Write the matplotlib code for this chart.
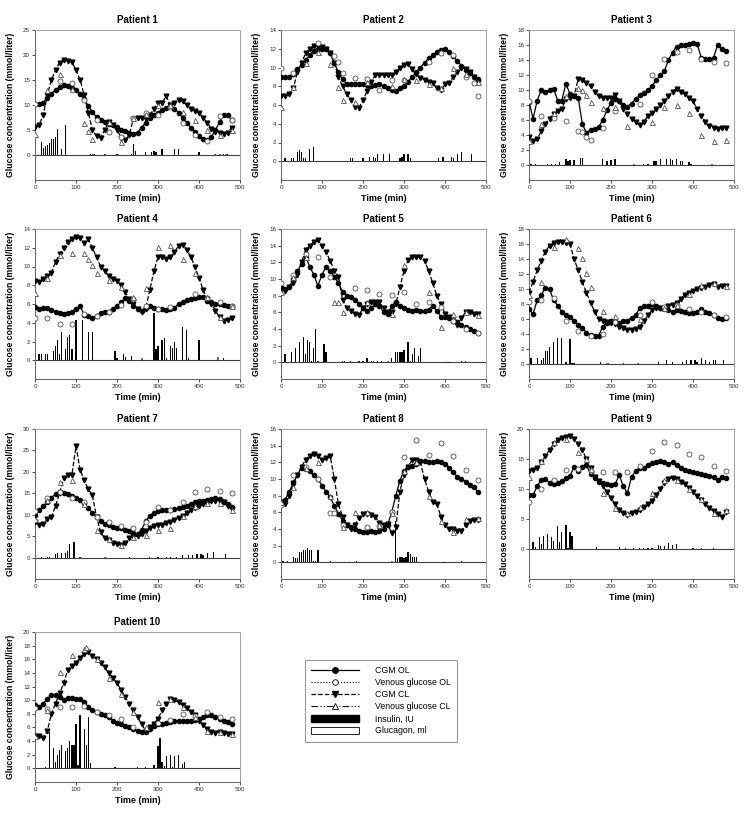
import numpy as np
import matplotlib
matplotlib.use('Agg')
import matplotlib.pyplot as plt
from matplotlib.lines import Line2D
from matplotlib.patches import Patch

plt.rcParams['font.family'] = ['Liberation Sans', 'DejaVu Sans']

# y axis: top value and tick step for each patient
Y_TOP = [25, 14, 18, 14, 16, 18, 30, 16, 20, 20]
Y_STEP = [5, 2, 2, 2, 2, 2, 5, 2, 5, 2]

# CGM readings, one value every 10 min from 0 to 480 min
CGM_OL = [
    [10.3, 10.3, 10.5, 11.5, 12.3, 13.0, 13.6, 14.0, 13.9, 13.5,
     13.0, 12.3, 11.2, 9.8, 8.6, 7.6, 7.0, 6.6, 6.3, 6.0,
     5.6, 5.1, 4.8, 4.5, 4.3, 4.5, 5.5, 6.5, 7.4, 8.0,
     8.5, 9.0, 9.5, 9.8, 9.3, 8.5, 7.5, 6.5, 5.5, 4.6,
     3.9, 3.3, 3.0, 3.6, 5.0, 6.6, 8.0, 8.0, 7.0],
    [9.0, 9.0, 9.0, 9.3, 9.8, 10.3, 10.8, 11.3, 11.8, 12.0,
     12.0, 12.0, 11.5, 10.5, 9.5, 8.8, 8.2, 8.2, 8.2, 8.2,
     8.2, 8.1, 8.0, 8.1, 8.2, 8.0, 7.8, 7.6, 7.5, 7.8,
     8.0, 8.5, 9.0, 9.5, 10.0, 10.5, 11.0, 11.3, 11.7, 11.9,
     12.0, 11.7, 11.2, 10.7, 10.2, 9.7, 9.4, 9.0, 8.8],
    [8.4, 6.2, 8.6, 10.0, 9.8, 10.0, 10.2, 8.6, 8.6, 10.8,
     9.5, 9.2, 9.0, 5.5, 4.3, 4.7, 4.8, 5.1, 6.0, 7.3,
     8.3, 8.8, 8.6, 8.0, 7.8, 8.2, 8.8, 9.3, 9.6, 10.0,
     10.5, 11.3, 12.0, 12.5, 14.0, 15.0, 15.8, 16.0, 16.0, 16.1,
     16.3, 16.2, 14.3, 14.1, 14.1, 14.3, 16.0, 15.5, 15.2],
    [5.7, 5.5, 5.6, 5.6, 5.4, 5.2, 5.0, 4.9, 5.0, 5.2,
     5.5, 5.8, 4.8, 4.7, 4.5, 4.7, 5.0, 5.1, 5.2, 5.5,
     5.8, 6.2, 6.6, 6.3, 5.8, 5.5, 5.3, 5.6, 5.8, 5.6,
     5.5, 5.5, 5.4, 5.5, 5.6, 6.0, 6.2, 6.4, 6.5, 6.6,
     6.8, 6.7, 6.3, 6.2, 6.0, 6.0, 5.9, 5.8, 5.8],
    [9.0, 8.8, 9.0, 10.0, 11.0, 11.8, 12.7, 11.5, 10.5, 9.2,
     10.5, 11.5, 11.0, 10.3, 9.5, 8.5, 8.0, 7.8, 7.5, 7.0,
     6.5, 6.2, 6.5, 7.0, 6.8, 6.0, 5.8, 6.8, 7.2, 6.8,
     6.5, 6.3, 6.2, 6.3, 6.2, 6.2, 6.3, 6.8, 6.2, 5.5,
     5.4, 5.3, 5.0, 4.8, 4.5, 4.2, 4.0, 3.8, 3.5],
    [7.3, 6.7, 8.5, 9.2, 10.2, 10.0, 8.5, 7.8, 7.0, 6.5,
     6.3, 5.8, 5.2, 4.8, 4.2, 3.9, 3.8, 3.8, 5.0, 5.5,
     5.7, 5.8, 5.5, 5.8, 5.8, 6.2, 6.5, 7.5, 7.8, 7.8,
     8.0, 7.8, 7.5, 7.3, 7.2, 7.0, 7.2, 7.1, 6.9, 6.8,
     6.8, 7.0, 7.3, 7.0, 6.8, 6.5, 6.2, 6.0, 6.2],
    [10.0, 11.0, 12.0, 13.0, 14.0, 14.8, 15.3, 15.0, 14.8, 14.3,
     14.0, 13.5, 12.8, 11.5, 10.5, 9.5, 8.5, 7.8, 7.5, 7.2,
     7.0, 6.8, 6.5, 6.2, 5.8, 5.5, 6.5, 8.5, 9.8, 10.5,
     10.8, 11.0, 11.0, 11.2, 11.3, 11.5, 11.8, 12.0, 12.5, 13.0,
     13.3, 13.2, 13.5, 13.7, 13.8, 13.7, 13.0, 12.5, 11.8],
    [7.0, 7.5, 8.5, 9.5, 10.5, 11.3, 11.2, 11.0, 10.5, 10.0,
     9.2, 8.5, 7.8, 6.8, 5.8, 5.0, 4.5, 4.2, 4.0, 3.8,
     3.7, 3.6, 3.8, 3.7, 3.8, 4.0, 4.5, 6.0, 8.0, 9.8,
     11.0, 11.5, 11.6, 11.8, 12.2, 12.2, 12.0, 12.0, 12.2, 12.0,
     11.8, 11.3, 10.8, 10.3, 10.0, 9.7, 9.3, 9.0, 8.5],
    [9.0, 9.0, 10.5, 11.5, 11.7, 11.0, 10.8, 11.0, 11.3, 11.8,
     12.2, 13.7, 13.0, 13.7, 14.0, 12.5, 11.8, 11.2, 11.0, 10.8,
     10.7, 10.8, 12.3, 10.5, 9.3, 12.0, 13.0, 13.5, 13.5, 14.0,
     14.3, 14.5, 14.7, 14.5, 14.2, 14.5, 14.0, 13.5, 13.2, 13.0,
     12.8, 12.7, 12.5, 12.3, 12.2, 12.0, 11.5, 12.0, 11.8],
    [9.3, 9.0, 9.5, 10.2, 10.8, 10.8, 10.5, 10.0, 10.3, 10.3,
     10.2, 10.2, 9.8, 9.0, 8.5, 8.3, 8.0, 7.8, 7.5, 7.0,
     6.7, 6.5, 6.2, 6.0, 5.8, 5.5, 5.3, 5.3, 5.8, 6.2,
     6.5, 6.5, 6.7, 6.8, 6.9, 6.9, 6.9, 7.0, 7.0, 7.1,
     7.3, 7.6, 7.9, 7.8, 7.6, 7.3, 7.0, 6.8, 6.5],
]

CGM_CL = [
    [5.6, 6.0, 8.0, 12.0, 15.0, 17.0, 18.5, 19.1, 18.8, 18.6,
     17.0, 15.0, 12.0, 8.5, 5.0, 3.8, 3.5, 5.0, 6.7, 6.0,
     5.0, 3.5, 3.0, 4.0, 7.3, 7.5, 7.5, 7.3, 8.0, 9.2,
     10.5, 10.5, 11.8, 10.0, 10.5, 11.0, 10.8, 10.0, 9.2, 8.8,
     8.5, 7.5, 6.5, 5.2, 4.6, 4.5, 4.2, 4.5, 5.5],
    [7.0, 7.0, 7.2, 7.8, 9.5, 10.5, 11.5, 12.0, 12.3, 12.3,
     12.2, 12.0, 11.5, 10.5, 9.0, 8.0, 7.2, 6.5, 5.8, 5.7,
     6.5, 7.5, 8.5, 9.2, 9.2, 9.2, 9.2, 9.2, 9.5, 10.0,
     10.3, 10.4, 9.8, 9.3, 8.9, 8.7, 8.5, 8.3, 7.8, 7.6,
     8.2, 8.3, 9.0, 9.5, 10.0, 9.8, 9.5, 9.0, 8.5],
    [3.7, 3.2, 3.5, 4.5, 5.5, 6.2, 6.8, 7.2, 7.5, 8.8,
     9.0, 9.2, 11.5, 11.4, 11.0, 10.5, 9.8, 9.2, 9.0, 9.0,
     8.9, 9.3, 8.5, 7.5, 6.8, 6.2, 5.7, 5.3, 5.8, 6.5,
     7.0, 7.5, 8.0, 8.5, 9.2, 9.8, 10.2, 9.8, 9.5, 9.0,
     8.5, 7.5, 6.5, 5.8, 5.2, 4.9, 4.8, 4.9, 5.0],
    [8.5, 8.3, 8.7, 9.0, 9.3, 10.5, 11.3, 12.0, 12.6, 12.9,
     13.1, 13.0, 12.5, 12.9, 12.0, 11.0, 10.0, 9.5, 9.0, 8.7,
     8.5, 8.0, 7.3, 6.5, 6.0, 5.5, 5.2, 5.5, 7.5, 9.5,
     11.0, 11.0, 10.8, 11.0, 11.5, 12.2, 12.3, 11.8, 11.0, 10.0,
     8.8, 7.5, 6.5, 6.0, 5.3, 4.6, 4.2, 4.3, 4.5],
    [8.8, 8.6, 9.0, 9.5, 10.5, 12.0, 13.5, 14.0, 14.5, 14.7,
     14.0, 13.2, 12.2, 11.0, 10.3, 7.5, 6.5, 6.2, 5.8, 5.7,
     6.5, 7.0, 7.2, 7.3, 7.2, 6.5, 6.0, 6.0, 7.0, 9.0,
     11.0, 12.3, 12.6, 12.7, 12.6, 12.2, 11.0, 9.5, 8.0, 7.0,
     5.8, 5.5, 5.0, 4.5, 5.3, 6.0, 6.0, 5.8, 5.8],
    [9.5, 11.0, 12.5, 13.8, 15.0, 15.8, 16.1, 16.3, 16.3, 16.2,
     16.0, 14.0, 12.5, 11.0, 9.5, 8.2, 7.0, 6.0, 5.7, 5.6,
     5.5, 5.4, 5.0, 4.8, 4.6, 4.6, 4.7, 5.0, 5.7, 6.5,
     7.2, 7.5, 7.5, 7.5, 7.8, 7.9, 8.2, 8.7, 9.2, 9.5,
     9.8, 10.0, 10.2, 10.3, 10.5, 10.7, 10.3, 10.4, 10.4],
    [8.3, 7.5, 7.8, 9.0, 9.5, 12.0, 15.0, 18.5, 19.3, 19.3,
     26.0, 20.5, 18.0, 16.0, 14.5, 9.5, 6.0, 4.5, 4.0, 3.5,
     3.2, 3.0, 3.3, 4.5, 5.0, 5.0, 5.5, 6.3, 7.0, 7.3,
     7.5, 7.7, 8.0, 8.3, 8.7, 9.2, 9.8, 10.3, 11.0, 11.5,
     12.0, 12.5, 12.8, 13.2, 13.3, 13.3, 13.0, 12.0, 11.3],
    [7.2, 7.0, 8.0, 9.5, 10.5, 11.5, 12.3, 12.8, 13.0, 12.8,
     12.3, 12.5, 12.8, 10.0, 7.0, 5.5, 4.5, 4.0, 4.5, 5.3,
     5.8, 5.8, 5.7, 5.5, 4.7, 4.5, 4.6, 3.5, 4.2, 8.5,
     10.5, 11.5, 12.3, 12.3, 12.0, 10.0, 8.5, 7.3, 7.0, 5.5,
     4.5, 4.0, 4.0, 3.8, 3.8, 4.5, 5.0, 5.1, 5.1],
    [13.0, 13.2, 13.5, 14.5, 15.5, 16.5, 17.5, 18.2, 18.5, 18.7,
     18.9, 18.3, 17.5, 16.5, 15.0, 13.5, 12.0, 11.3, 10.5, 9.5,
     8.5, 7.5, 6.5, 6.0, 5.7, 6.0, 6.2, 6.5, 7.0, 7.5,
     8.0, 9.0, 10.0, 11.0, 11.6, 11.9, 11.6, 11.2, 10.8, 10.2,
     9.5, 8.8, 8.2, 7.5, 6.8, 6.3, 5.8, 5.4, 6.2],
    [4.8, 4.7, 4.5, 5.5, 8.0, 9.5, 11.0, 12.5, 14.5, 15.0,
     15.5, 16.2, 16.8, 17.0, 16.5, 16.0, 15.5, 14.8, 14.0, 13.3,
     12.5, 11.5, 10.5, 9.5, 8.5, 7.5, 6.5, 5.5, 6.0, 6.5,
     7.3, 8.5, 9.5, 10.2, 10.0, 9.7, 9.3, 8.8, 8.3, 7.8,
     7.0, 6.3, 5.8, 5.3, 5.2, 5.3, 5.2, 5.1, 5.0],
]

# venous samples (time min, glucose mmol/l)
VEN_OL = [
    [(0, 10.3), (60, 14.8), (90, 14.4), (120, 11.0), (150, 7.0), (180, 4.7), (210, 3.7),
     (240, 7.5), (270, 8.5), (300, 8.0), (330, 9.7), (360, 6.5), (390, 4.0), (420, 2.9),
     (450, 7.8), (480, 7.0)],
    [(0, 9.9), (30, 9.4), (90, 12.6), (130, 11.2), (140, 10.6), (150, 9.4), (180, 8.9),
     (210, 8.8), (240, 7.6), (270, 8.7), (300, 8.7), (360, 10.6), (390, 11.6), (420, 11.3),
     (450, 9.0), (470, 8.3), (480, 7.0)],
    [(0, 8.5), (30, 6.5), (60, 6.3), (90, 5.9), (120, 4.6), (130, 4.4), (140, 3.8), (150, 3.3),
     (180, 4.9), (210, 7.2), (270, 8.2), (300, 12.0), (330, 14.1), (360, 15.1), (390, 15.3),
     (420, 14.1), (450, 13.7), (480, 13.6)],
    [(0, 4.5), (30, 4.5), (60, 3.9), (90, 3.9), (120, 4.9), (150, 4.7), (180, 5.2), (210, 5.9),
     (240, 6.5), (270, 5.8), (300, 5.5), (330, 5.7), (390, 7.1), (420, 6.6), (450, 6.2),
     (480, 5.8)],
    [(0, 9.5), (30, 10.5), (60, 13.0), (90, 12.6), (120, 10.3), (180, 8.9), (210, 8.7),
     (240, 8.2), (270, 8.1), (300, 8.5), (330, 7.0), (360, 7.3), (390, 6.6), (420, 5.0),
     (450, 4.0), (480, 3.5)],
    [(0, 8.3), (30, 8.6), (60, 8.8), (90, 5.8), (120, 4.4), (150, 3.7), (180, 4.0), (210, 5.6),
     (270, 6.6), (300, 8.3), (330, 7.6), (360, 7.9), (390, 7.4), (420, 7.0), (450, 6.6),
     (480, 6.3)],
    [(0, 10.8), (30, 14.0), (60, 15.3), (90, 14.0), (120, 13.0), (150, 9.5), (180, 8.2),
     (210, 7.3), (240, 7.0), (270, 8.2), (300, 11.8), (330, 11.2), (360, 13.0), (390, 15.3),
     (420, 16.0), (450, 15.6), (480, 15.0)],
    [(0, 6.9), (30, 10.5), (60, 11.5), (90, 10.0), (120, 5.9), (130, 5.9), (150, 4.5),
     (210, 4.2), (240, 4.4), (270, 6.0), (300, 12.7), (330, 14.7), (360, 12.9), (390, 14.3),
     (420, 12.8), (450, 11.1), (480, 9.9)],
    [(0, 7.8), (30, 10.0), (60, 11.5), (90, 13.1), (120, 13.3), (150, 13.0), (180, 12.9),
     (210, 12.9), (240, 12.9), (270, 13.9), (300, 16.3), (330, 17.9), (360, 17.3), (390, 15.8),
     (420, 15.3), (450, 13.8), (480, 13.0)],
    [(0, 8.9), (30, 8.7), (60, 9.0), (90, 9.0), (120, 9.2), (150, 8.3), (180, 7.8), (210, 7.2),
     (240, 6.0), (300, 6.6), (330, 7.1), (360, 8.0), (390, 7.7), (420, 8.2), (450, 7.6),
     (480, 7.2)],
]

VEN_CL = [
    [(0, 4.3), (30, 13.0), (60, 16.3), (90, 13.2), (120, 6.5), (130, 4.8), (140, 3.2),
     (180, 6.7), (210, 2.7), (240, 7.5), (270, 8.3), (300, 10.0), (330, 10.0), (360, 8.7),
     (390, 7.0), (420, 5.0), (450, 4.0), (480, 5.0)],
    [(0, 5.8), (30, 7.9), (60, 10.5), (90, 11.7), (120, 10.4), (140, 7.9), (150, 6.5),
     (180, 6.3), (210, 8.5), (270, 8.0), (300, 8.8), (330, 8.7), (360, 8.2), (390, 7.8),
     (420, 10.0), (450, 9.3), (480, 8.5)],
    [(0, 3.2), (30, 5.5), (60, 7.0), (90, 9.2), (120, 10.3), (130, 10.0), (140, 9.3),
     (150, 8.4), (180, 7.6), (210, 7.8), (240, 5.2), (300, 5.7), (330, 7.8), (360, 8.0),
     (390, 7.0), (420, 4.0), (450, 3.2), (480, 3.3)],
    [(0, 7.2), (30, 8.8), (60, 11.2), (90, 11.4), (120, 11.4), (130, 10.8), (140, 10.2),
     (150, 9.3), (180, 8.6), (210, 7.8), (240, 6.8), (270, 7.7), (300, 12.1), (330, 12.3),
     (360, 10.8), (390, 9.3), (420, 6.7), (450, 4.6), (480, 5.8)],
    [(0, 8.5), (30, 10.2), (60, 12.7), (130, 7.3), (140, 7.2), (150, 6.1), (210, 7.3),
     (270, 5.8), (300, 11.7), (360, 8.5), (390, 4.3), (420, 5.8), (450, 6.1), (480, 5.7)],
    [(0, 9.2), (30, 10.9), (60, 15.6), (90, 16.7), (120, 15.5), (130, 14.2), (140, 12.2),
     (150, 10.3), (180, 7.1), (210, 6.4), (270, 6.0), (330, 7.5), (360, 7.9), (390, 9.3),
     (420, 10.5), (450, 10.8), (480, 10.4)],
    [(0, 9.0), (30, 13.5), (60, 17.7), (90, 18.2), (120, 12.5), (150, 6.5), (180, 4.3),
     (210, 3.0), (240, 4.8), (270, 5.2), (300, 6.5), (330, 6.9), (360, 9.8), (390, 12.0),
     (420, 12.7), (450, 12.8), (480, 11.0)],
    [(0, 7.3), (30, 9.0), (60, 11.3), (90, 12.1), (120, 8.0), (150, 4.2), (180, 6.0),
     (210, 6.1), (240, 4.5), (270, 5.9), (300, 11.0), (330, 12.0), (360, 8.0), (390, 5.0),
     (420, 3.7), (450, 5.2), (480, 5.3)],
    [(0, 12.0), (30, 14.7), (60, 17.8), (90, 18.4), (120, 16.2), (140, 15.0), (150, 13.3),
     (180, 9.3), (210, 6.9), (240, 6.0), (270, 7.0), (300, 9.4), (330, 11.5), (360, 11.5),
     (390, 10.0), (420, 8.3), (450, 6.0), (480, 6.5)],
    [(0, 4.7), (30, 8.5), (60, 14.2), (90, 16.6), (120, 17.5), (125, 17.8), (150, 16.0),
     (180, 13.3), (210, 10.9), (240, 8.3), (270, 6.0), (300, 9.8), (330, 10.2), (360, 9.0),
     (390, 7.5), (420, 5.5), (450, 5.3), (480, 5.0)],
]

# insulin doses (time min, IU)
INSULIN = [
    [(15, 2.7), (20, 1.5), (25, 1.9), (30, 2.1), (35, 2.4), (40, 3.3), (45, 3.2), (50, 3.6),
     (55, 5.2), (65, 1.2), (75, 6.0), (135, 0.2), (145, 0.2), (170, 0.2), (200, 0.2),
     (235, 0.2), (240, 2.2), (245, 0.8), (270, 0.6), (285, 0.6), (290, 0.8), (295, 0.7),
     (310, 1.2), (340, 1.2), (350, 1.2), (400, 0.6), (440, 0.2), (460, 0.2), (470, 0.2)],
    [(10, 0.3), (25, 0.3), (30, 0.3), (40, 1.0), (45, 1.2), (50, 1.0), (55, 0.3), (60, 0.3),
     (70, 1.3), (80, 1.5), (170, 0.3), (175, 0.3), (200, 0.3), (215, 0.5), (225, 0.5),
     (230, 0.4), (235, 0.8), (250, 0.8), (265, 0.8), (290, 0.3), (295, 0.5), (300, 0.8),
     (310, 0.8), (315, 0.3), (385, 0.3), (395, 0.5), (415, 0.5), (420, 0.3), (430, 0.8),
     (440, 1.0), (465, 0.8)],
    [(0, 0.1), (5, 0.1), (15, 0.1), (45, 0.2), (55, 0.2), (65, 0.2), (75, 0.4), (90, 0.8),
     (95, 0.6), (100, 0.7), (110, 0.7), (125, 1.0), (130, 1.0), (180, 0.8), (190, 0.5),
     (200, 0.7), (210, 0.8), (280, 0.2), (290, 0.2), (305, 0.5), (310, 0.5), (320, 0.8),
     (335, 0.8), (345, 0.8), (350, 0.7), (360, 0.8), (370, 0.5), (375, 0.6), (390, 0.4),
     (395, 0.2)],
    [(0, 0.7), (10, 0.7), (15, 0.7), (25, 0.7), (30, 0.7), (45, 1.0), (50, 1.5), (55, 2.2),
     (60, 0.7), (65, 3.0), (75, 1.2), (80, 2.5), (85, 2.7), (90, 1.2), (100, 4.3),
     (115, 4.3), (130, 3.0), (140, 3.0), (195, 1.0), (200, 0.2), (215, 0.7), (220, 0.3),
     (235, 0.5), (290, 5.0), (295, 1.2), (300, 1.5), (310, 2.2), (315, 2.4), (320, 0.2),
     (330, 1.5), (335, 1.3), (340, 2.0), (345, 1.3), (360, 3.5), (370, 3.2), (375, 0.2),
     (400, 2.2), (460, 0.2)],
    [(10, 1.0), (25, 1.2), (35, 1.7), (45, 2.5), (55, 3.0), (60, 1.0), (65, 2.7), (70, 2.5),
     (75, 0.2), (80, 1.7), (85, 4.0), (90, 0.2), (105, 2.2), (110, 1.2), (150, 0.2),
     (155, 0.2), (170, 0.2), (190, 0.2), (200, 0.2), (210, 0.5), (220, 0.2), (225, 0.2),
     (235, 0.2), (245, 0.2), (270, 0.5), (280, 1.2), (285, 1.2), (290, 1.2), (295, 1.2),
     (300, 1.5), (310, 2.5), (315, 0.2), (320, 1.0), (325, 1.7), (335, 0.8), (340, 1.7),
     (440, 0.2), (450, 0.2)],
    [(5, 0.8), (20, 0.8), (30, 0.5), (35, 0.8), (40, 1.8), (45, 1.8), (50, 2.3), (60, 3.0),
     (70, 3.5), (80, 3.5), (90, 0.3), (100, 3.3), (105, 0.2), (110, 0.2), (175, 0.3),
     (230, 0.2), (315, 0.3), (335, 0.5), (350, 0.3), (375, 0.3), (385, 0.5), (395, 0.5),
     (405, 0.5), (410, 0.3), (420, 0.8), (430, 0.6), (440, 0.3), (450, 0.5), (455, 0.5),
     (475, 0.5)],
    [(15, 0.2), (30, 0.2), (35, 0.2), (50, 0.8), (55, 1.0), (65, 1.0), (75, 1.0), (80, 1.5),
     (85, 3.2), (95, 3.6), (110, 0.2), (230, 0.2), (280, 0.2), (300, 0.2), (320, 0.2),
     (330, 0.2), (345, 0.2), (360, 0.5), (375, 0.5), (385, 0.7), (395, 0.8), (405, 0.8),
     (410, 0.7), (420, 1.0), (435, 1.2), (465, 0.8)],
    [(5, 0.2), (15, 0.2), (30, 0.7), (35, 0.5), (40, 0.5), (45, 1.2), (50, 1.3), (55, 1.5),
     (60, 1.5), (65, 1.7), (70, 1.5), (75, 1.5), (80, 0.2), (85, 0.2), (90, 1.5), (120, 0.2),
     (185, 0.2), (280, 5.0), (285, 0.5), (290, 0.7), (295, 0.6), (300, 0.5), (305, 0.7),
     (310, 1.2), (315, 1.0), (320, 0.7), (325, 0.7), (330, 0.7), (440, 0.2)],
    [(10, 1.1), (15, 0.3), (25, 2.0), (30, 0.8), (35, 2.2), (45, 2.5), (55, 2.0), (60, 1.3),
     (70, 3.8), (75, 1.2), (80, 2.8), (90, 4.0), (95, 0.2), (100, 2.8), (105, 2.2),
     (165, 0.3), (220, 0.3), (235, 0.2), (255, 0.2), (270, 0.2), (280, 0.2), (290, 0.2),
     (300, 0.2), (315, 0.6), (320, 0.5), (330, 0.5), (340, 1.0), (350, 0.6), (360, 0.8),
     (400, 0.1), (420, 0.2), (450, 0.2)],
    [(25, 0.2), (35, 5.3), (45, 3.0), (50, 1.0), (55, 2.0), (60, 2.7), (65, 3.5), (75, 2.5),
     (80, 3.0), (85, 4.0), (90, 3.5), (95, 3.5), (100, 6.5), (105, 0.5), (110, 7.8),
     (120, 5.8), (125, 3.5), (130, 7.5), (135, 0.8), (195, 0.2), (250, 0.2), (270, 0.2),
     (290, 0.5), (300, 3.3), (305, 4.5), (310, 1.0), (315, 0.3), (320, 1.8), (330, 2.0),
     (335, 0.2), (340, 1.8), (350, 2.0), (360, 0.7), (365, 1.0), (425, 0.1)],
]

# glucagon doses (time min, ml)
GLUCAGON = [
    [(140, 0.2), (170, 0.2), (200, 0.2), (450, 0.2), (465, 0.2)],
    [],
    [(255, 0.1), (445, 0.1)],
    [(260, 0.2), (445, 0.3)],
    [(175, 0.1), (260, 0.2), (400, 0.1), (410, 0.1)],
    [(190, 0.2), (265, 0.1)],
    [(170, 0.2)],
    [(155, 0.1), (165, 0.1), (270, 0.2), (395, 0.1)],
    [],
    [(270, 0.1)],
]

W, H = 748, 815
fig = plt.figure(figsize=(W / 100, H / 100), dpi=100)

col_left = [35, 281, 529]
row_top = [30, 229, 429, 632]
ax_w, ax_h = 205, 150

for i in range(10):
    r, c = divmod(i, 3)
    ax = fig.add_axes([col_left[c] / W, 1 - (row_top[r] + ax_h) / H, ax_w / W, ax_h / H])

    ins = INSULIN[i]
    ax.bar([p[0] for p in ins], [p[1] for p in ins], width=3, color='k', lw=0, zorder=2)
    glu = GLUCAGON[i]
    if glu:
        ax.bar([p[0] for p in glu], [p[1] for p in glu], width=3, color='white',
               edgecolor='k', lw=0.4, zorder=2)

    ax.axhline(0, color='#404040', lw=0.8, zorder=1)

    # CGM traces
    t_cgm = np.arange(len(CGM_OL[i])) * 10
    ax.plot(t_cgm, CGM_OL[i], '-', color='k', lw=0.9, marker='o', ms=3.0, zorder=4)
    t_cgm = np.arange(len(CGM_CL[i])) * 10
    ax.plot(t_cgm, CGM_CL[i], '--', color='k', lw=0.9, marker='v', ms=3.4, zorder=4)

    # venous samples
    vo = VEN_OL[i]
    ax.plot([p[0] for p in vo], [p[1] for p in vo], ls='none', marker='o', ms=3.6,
            mfc='white', mec='#505050', mew=0.6, zorder=5)
    vc = VEN_CL[i]
    ax.plot([p[0] for p in vc], [p[1] for p in vc], ls='none', marker='^', ms=3.6,
            mfc='white', mec='#505050', mew=0.6, zorder=5)

    step = Y_STEP[i]
    ax.set_ylim(-step, Y_TOP[i])
    ax.set_yticks(np.arange(0, Y_TOP[i] + 0.1, step))
    ax.set_xlim(0, 500)
    ax.set_xticks(range(0, 501, 100))
    ax.tick_params(labelsize=4.5, length=2, width=0.6, pad=1.5, colors='#303030')
    for side in ['top', 'right']:
        ax.spines[side].set_color('#a0a0a0')
        ax.spines[side].set_linewidth(0.7)
    for side in ['left', 'bottom']:
        ax.spines[side].set_color('#606060')
        ax.spines[side].set_linewidth(0.7)

    ax.set_title('Patient {}'.format(i + 1), fontsize=7, fontweight='bold', pad=5)
    ax.set_xlabel('Time (min)', fontsize=6.5, fontweight='bold', labelpad=3)
    ax.set_ylabel('Glucose concentration (mmol/liter)', fontsize=6.2, fontweight='bold',
                  labelpad=6)

# Legend
handles = [
    Line2D([], [], color='k', lw=0.9, ls='-', marker='o', ms=4),
    Line2D([], [], color='k', lw=0.8, ls=':', marker='o', ms=4, mfc='white', mec='k', mew=0.6),
    Line2D([], [], color='k', lw=0.9, ls='--', marker='v', ms=4),
    Line2D([], [], color='k', lw=0.8, ls=(0, (6, 2, 1, 2, 1, 2)), marker='^', ms=4,
           mfc='white', mec='k', mew=0.6),
    Patch(facecolor='k', edgecolor='k'),
    Patch(facecolor='white', edgecolor='k', lw=0.6),
]
labels = ['CGM OL', 'Venous glucose OL', 'CGM CL', 'Venous glucose CL',
          'Insulin, IU', 'Glucagon, ml']
leg = fig.legend(handles, labels, loc='upper left', bbox_to_anchor=(305 / W, 1 - 660 / H),
                 fontsize=6.3, frameon=True, fancybox=False, edgecolor='#808080',
                 handlelength=5.5, handleheight=0.8, labelspacing=0.35, borderpad=0.7,
                 handletextpad=1.8, borderaxespad=0)
leg.get_frame().set_linewidth(0.8)

fig.savefig('out.png', dpi=100)
